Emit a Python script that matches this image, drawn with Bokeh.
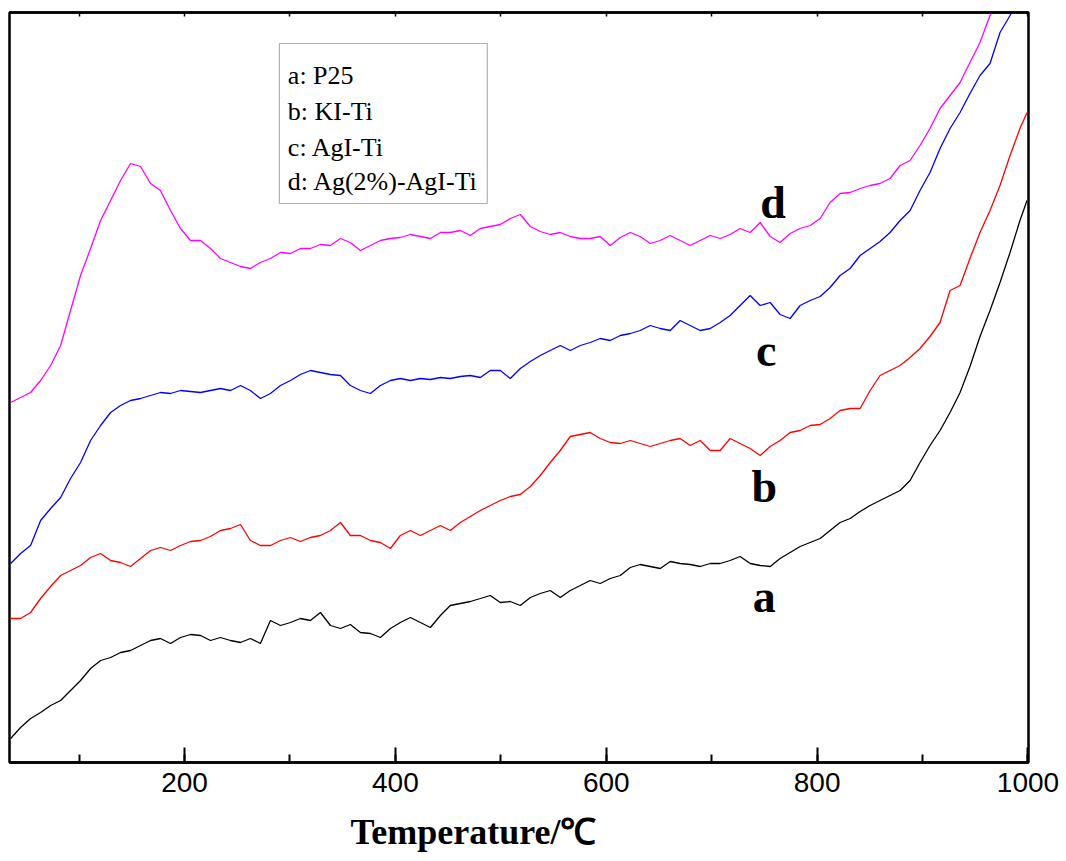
from bokeh.plotting import figure
from bokeh.models import (Range1d, LinearAxis, SingleIntervalTicker, Label, BoxAnnotation,
                          Title, CustomJSTickFormatter)
from bokeh.embed import file_html
from bokeh.resources import INLINE

# Temperature (°C) sample positions
temps = [35.1, 44.5, 54.0, 63.5, 73.0, 82.5, 91.9, 101.4, 110.9, 120.4,
         129.9, 139.3, 148.8, 158.3, 167.8, 177.2, 186.7, 196.2, 205.7, 215.2,
         224.6, 234.1, 243.6, 253.1, 262.5, 272.0, 281.5, 291.0, 300.5, 309.9,
         319.4, 328.9, 338.4, 347.9, 357.3, 366.8, 376.3, 385.8, 395.3, 404.7,
         414.2, 423.7, 433.2, 442.7, 452.1, 461.6, 471.1, 480.6, 490.0, 499.5,
         509.0, 518.5, 528.0, 537.4, 546.9, 556.4, 565.9, 575.4, 584.8, 594.3,
         603.8, 613.3, 622.8, 632.2, 641.7, 651.2, 660.7, 670.1, 679.6, 689.1,
         698.6, 708.1, 717.5, 727.0, 736.5, 746.0, 755.5, 764.9, 774.4, 783.9,
         793.4, 802.9, 812.3, 821.8, 831.3, 840.8, 850.3, 859.7, 869.2, 878.7,
         888.2, 897.6, 907.1, 916.6, 926.1, 935.6, 945.0, 954.5, 964.0, 973.5,
         983.0, 992.4, 999.1]

# Intensity (a.u., offset curves)
a_p25 = [24, 35, 44, 50, 57, 62, 72, 82, 94, 102,
         105, 110, 112, 117, 122, 124, 119, 125, 128, 127,
         122, 125, 122, 120, 124, 119, 142, 137, 140, 144,
         142, 150, 137, 134, 138, 130, 129, 125, 134, 140,
         145, 140, 135, 147, 157, 159, 161, 164, 167, 160,
         161, 157, 165, 169, 172, 165, 172, 177, 182, 179,
         184, 187, 195, 198, 196, 194, 201, 199, 198, 196,
         199, 199, 202, 206, 199, 197, 196, 204, 210, 216,
         220, 224, 232, 240, 244, 251, 257, 262, 267, 272,
         282, 300, 317, 332, 350, 370, 396, 426, 452, 480,
         510, 542, 562]

b_kiti = [144, 144, 150, 164, 176, 187, 192, 197, 205, 209,
          202, 200, 196, 204, 212, 215, 212, 217, 221, 222,
          226, 232, 234, 238, 222, 217, 217, 222, 225, 221,
          225, 227, 232, 240, 227, 227, 222, 220, 214, 227,
          232, 227, 232, 237, 232, 240, 246, 252, 257, 262,
          266, 268, 276, 287, 300, 312, 326, 328, 330, 324,
          320, 319, 322, 319, 316, 319, 322, 324, 317, 322,
          312, 312, 324, 319, 314, 307, 316, 322, 330, 332,
          337, 338, 344, 352, 354, 354, 372, 387, 392, 397,
          405, 414, 426, 440, 472, 477, 504, 530, 552, 577,
          607, 634, 650]

c_agiti = [199, 209, 217, 242, 254, 265, 284, 300, 322, 337,
           350, 357, 362, 364, 367, 370, 369, 372, 371, 370,
           372, 374, 372, 377, 372, 364, 369, 377, 382, 388,
           392, 390, 388, 387, 377, 372, 369, 377, 382, 384,
           382, 384, 383, 385, 384, 386, 387, 385, 392, 392,
           384, 394, 401, 407, 412, 417, 412, 417, 420, 424,
           422, 427, 429, 432, 437, 434, 432, 442, 437, 432,
           434, 440, 447, 457, 467, 457, 460, 448, 444, 457,
           462, 466, 475, 487, 494, 507, 514, 521, 530, 542,
           552, 572, 590, 614, 634, 650, 669, 687, 699, 730,
           747, 767, 782]

d_ag_agiti = [360, 365, 370, 382, 397, 417, 452, 487, 514, 542,
              562, 582, 599, 596, 579, 572, 552, 534, 522, 522,
              514, 504, 500, 496, 494, 500, 504, 510, 509, 514,
              514, 518, 517, 524, 520, 512, 517, 522, 524, 525,
              528, 526, 524, 530, 530, 532, 527, 534, 536, 538,
              544, 548, 536, 531, 528, 530, 526, 524, 524, 526,
              517, 525, 530, 526, 519, 522, 527, 522, 517, 522,
              527, 524, 528, 534, 530, 540, 526, 520, 529, 534,
              537, 544, 560, 569, 570, 574, 577, 579, 584, 597,
              602, 617, 634, 654, 667, 680, 700, 720, 747, 767,
              787, 807, 822]

series = [a_p25, b_kiti, c_agiti, d_ag_agiti]
colors = ["#000000", "#FF0000", "#0000FF", "#FF00FF"]
curve_letters = ["a", "b", "c", "d"]
legend_texts = ["a: P25", "b: KI-Ti", "c: AgI-Ti", "d: Ag(2%)-AgI-Ti"]

p = figure(frame_width=1019, frame_height=750,
           min_border_left=9, min_border_right=38, min_border_top=12, min_border_bottom=99,
           x_range=Range1d(34, 1000.5), y_range=Range1d(0, 750),
           output_backend="svg", toolbar_location=None)

for ys, col in zip(series, colors):
    p.line(temps, ys, line_color=col, line_width=1.3)

p.background_fill_color = "white"
p.border_fill_color = "white"
p.xgrid.visible = False
p.ygrid.visible = False
p.yaxis.visible = False
p.outline_line_color = "black"
p.outline_line_width = 2.5

xa = p.xaxis[0]
xa.ticker = SingleIntervalTicker(interval=200, num_minor_ticks=2)
xa.major_tick_in = 15
xa.major_tick_out = 0
xa.minor_tick_in = 8
xa.minor_tick_out = 0
xa.major_tick_line_width = 2
xa.minor_tick_line_width = 2
xa.axis_line_width = 2.5
xa.major_label_text_font = "Liberation Sans"
xa.major_label_text_font_size = "28px"
xa.major_label_text_color = "black"
xa.major_label_standoff = 10

# x-axis title, placed as in the original (left of centre)
p.add_layout(Title(text="Temperature/℃", align="left", offset=341, standoff=30,
                   text_font="Liberation Serif", text_font_style="bold",
                   text_font_size="36px", text_color="black"), "below")

top = LinearAxis(ticker=SingleIntervalTicker(interval=100, num_minor_ticks=0),
                 formatter=CustomJSTickFormatter(code="return ''"))
top.major_tick_in = 4
top.major_tick_out = 0
top.minor_tick_in = 0
top.minor_tick_out = 0
top.major_tick_line_width = 1.5
top.major_label_standoff = 0
top.axis_line_width = 2.5
p.add_layout(top, "above")

# curve letters
letter_x = [749.8, 749.8, 751.7, 758.3]
letter_y = [166, 276, 412, 560]
for t, lx, ly in zip(curve_letters, letter_x, letter_y):
    p.add_layout(Label(x=lx, y=ly, text=t, text_font="Liberation Serif",
                       text_font_style="bold", text_font_size="46px",
                       text_align="center", text_baseline="alphabetic",
                       text_color="black"))

# legend box (text only, as in the original)
p.add_layout(BoxAnnotation(left=290.0, right=487.2, bottom=559, top=719,
                           fill_color="white", fill_alpha=1.0,
                           line_color="black", line_width=1.2))
leg_y = [687, 651, 615, 581]
for t, ly in zip(legend_texts, leg_y):
    p.add_layout(Label(x=298.0, y=ly, text=t, text_font="Liberation Serif",
                       text_font_size="26px", text_align="left",
                       text_baseline="alphabetic", text_color="black"))

open("out.html", "w").write(file_html(p, INLINE))
